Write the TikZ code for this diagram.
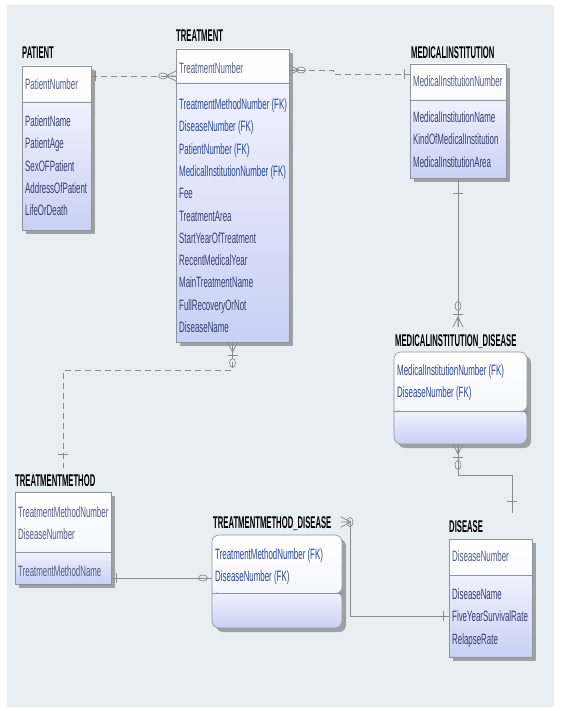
\documentclass[tikz,border=0pt]{standalone}
\usepackage{fontspec}
\setmainfont{Liberation Sans}
\newfontfamily\erfont{Liberation Sans}[FakeStretch=0.527]
\newfontfamily\ertitlefont{Liberation Sans}[FakeStretch=0.452]
\usetikzlibrary{shadows,calc}
\definecolor{panelbg}{HTML}{E8EFF2}
\definecolor{framegray}{HTML}{8C93A3}
\definecolor{shadowgray}{HTML}{999999}
\definecolor{keybot}{HTML}{F2F3FB}
\definecolor{attrtop}{HTML}{F0F2FD}
\definecolor{attrbot}{HTML}{C8D0F4}
\definecolor{keyblue}{HTML}{505C8A}
\definecolor{attrblue}{HTML}{343E70}
\definecolor{fkblue}{HTML}{2646A0}
\definecolor{linegray}{HTML}{8A8A8A}

\begin{document}
\begin{tikzpicture}[x=1pt, y=-1pt,
  entity/.style={draw=framegray, line width=0.6pt, anchor=north west, inner sep=0pt, outer sep=0pt,
    drop shadow={shadow xshift=4pt, shadow yshift=-4pt, fill=shadowgray, opacity=0.9},
    path picture={
      \shade[top color=white, bottom color=keybot] (path picture bounding box.north west) rectangle ([yshift=-#1]path picture bounding box.north east);
      \shade[top color=attrtop, bottom color=attrbot] ([yshift=-#1]path picture bounding box.north west) rectangle (path picture bounding box.south east);
      \draw[framegray, line width=0.6pt] ([yshift=-#1]path picture bounding box.north west) -- ([yshift=-#1]path picture bounding box.north east);
    }},
  entitytitle/.style={anchor=base west, inner sep=0pt, font=\ertitlefont\bfseries\fontsize{17}{17}\selectfont},
  % multi-line texts are placed by the baseline of their last line
  keytext/.style={anchor=base west, inner sep=0pt, align=left, text=keyblue, font=\erfont\fontsize{15}{22.3}\selectfont},
  attrtext/.style={keytext, text=attrblue},
  relline/.style={draw=linegray, line width=0.7pt},
  idline/.style={relline, dash pattern=on 6pt off 4pt},
  crow/.pic={\draw[relline] (-10,0) -- (0,-5) (-10,0) -- (0,5) (-10,0) -- (0,0);},
  bar/.pic={\draw[relline] (0,-5) -- (0,5);},
  vring/.pic={\draw[relline] (0,0) ellipse (3pt and 4.5pt);}
]
  \useasboundingbox (0,0) rectangle (561,711);
  \fill[panelbg] (7,5) rectangle (554,707);

  % entities
  \node[entity=36pt, minimum width=69pt, minimum height=164pt] (pat) at (22,66) {};
  \node[entitytitle] (pattitle) at ([yshift=7pt]pat.north west) {PATIENT};
  \node[keytext] (patkey) at ([xshift=3pt, yshift=-23.5pt]pat.north west) {PatientNumber};
  \node[attrtext] (patattr) at ([xshift=3pt, yshift=-149.7pt]pat.north west)
    {PatientName\\PatientAge\\SexOFPatient\\AddressOfPatient\\LifeOrDeath};

  \node[entity=34pt, minimum width=113pt, minimum height=293pt] (trt) at (176,49) {};
  \node[entitytitle] (trttitle) at ([yshift=7pt]trt.north west) {TREATMENT};
  \node[keytext] (trtkey) at ([xshift=3pt, yshift=-24.5pt]trt.north west) {TreatmentNumber};
  \node[attrtext] (trtattr) at ([xshift=3pt, yshift=-283.5pt]trt.north west)
    {\textcolor{fkblue}{TreatmentMethodNumber (FK)}\\\textcolor{fkblue}{DiseaseNumber (FK)}\\
     \textcolor{fkblue}{PatientNumber (FK)}\\\textcolor{fkblue}{MedicalInstitutionNumber (FK)}\\
     Fee\\TreatmentArea\\StartYearOfTreatment\\RecentMedicalYear\\MainTreatmentName\\
     FullRecoveryOrNot\\DiseaseName};

  \node[entity=36pt, minimum width=96pt, minimum height=114pt] (mi) at (410,64) {};
  \node[entitytitle] (mititle) at ([xshift=1pt, yshift=5.5pt]mi.north west) {MEDICALINSTITUTION};
  \node[keytext] (mikey) at ([xshift=3pt, yshift=-22.5pt]mi.north west) {MedicalInstitutionNumber};
  \node[attrtext] (miattr) at ([xshift=3pt, yshift=-103.1pt]mi.north west)
    {MedicalInstitutionName\\KindOfMedicalInstitution\\MedicalInstitutionArea};

  \node[entity=59pt, rounded corners=7pt, minimum width=133pt, minimum height=92pt] (mid) at (394,352) {};
  \node[entitytitle] (midtitle) at ([xshift=1pt, yshift=6pt]mid.north west) {MEDICALINSTITUTION\_DISEASE};
  \node[keytext, text=fkblue] (midkey) at ([xshift=3pt, yshift=-45.8pt]mid.north west)
    {MedicalInstitutionNumber (FK)\\DiseaseNumber (FK)};

  \node[entity=60pt, minimum width=96pt, minimum height=92pt] (tm) at (15,492) {};
  \node[entitytitle] (tmtitle) at ([yshift=6pt]tm.north west) {TREATMENTMETHOD};
  \node[keytext] (tmkey) at ([xshift=3pt, yshift=-47.8pt]tm.north west)
    {TreatmentMethodNumber\\DiseaseNumber};
  \node[keytext] (tmattr) at ([xshift=3pt, yshift=-84.5pt]tm.north west) {TreatmentMethodName};

  \node[entity=58pt, rounded corners=7pt, minimum width=130pt, minimum height=93pt] (tmd) at (212,535) {};
  \node[entitytitle] (tmdtitle) at ([xshift=1pt, yshift=7pt]tmd.north west) {TREATMENTMETHOD\_DISEASE};
  \node[keytext, text=fkblue] (tmdkey) at ([xshift=3pt, yshift=-46.8pt]tmd.north west)
    {TreatmentMethodNumber (FK)\\DiseaseNumber (FK)};

  \node[entity=36pt, minimum width=83pt, minimum height=118pt] (dis) at (449,539) {};
  \node[entitytitle] (distitle) at ([yshift=7pt]dis.north west) {DISEASE};
  \node[keytext] (diskey) at ([xshift=3pt, yshift=-22.5pt]dis.north west) {DiseaseNumber};
  \node[attrtext] (disattr) at ([xshift=3pt, yshift=-105.1pt]dis.north west)
    {DiseaseName\\FiveYearSurvivalRate\\RelapseRate};

  % PATIENT -- TREATMENT
  \coordinate (patr) at ([yshift=-10pt]pat.north east);
  \coordinate (trtl) at ([yshift=-27pt]trt.north west);
  \draw[idline] (patr) -- (trtl);
  \pic at ([xshift=4pt]patr) {bar};
  \pic at (trtl) {crow};
  \pic[rotate=90] at ([xshift=-13pt]trtl) {vring};

  % TREATMENT -- MEDICALINSTITUTION
  \coordinate (trtr) at ([yshift=-21pt]trt.north east);
  \coordinate (mil) at ([yshift=-10pt]mi.north west);
  \draw[idline] (trtr) -- ++(44,0) -- ++(0,4) -- (mil);
  \pic[rotate=180] at (trtr) {crow};
  \pic[rotate=90] at ([xshift=12pt]trtr) {vring};
  \pic at ([xshift=-6pt]mil) {bar};

  % MEDICALINSTITUTION -- MEDICALINSTITUTION_DISEASE
  \coordinate (midtop) at ([yshift=25pt]mid.north);
  \coordinate (midin) at (mi.south |- midtop);
  \draw[relline] (mi.south) -- (midin);
  \pic[rotate=90] at ([yshift=-15pt]mi.south) {bar};
  \pic[rotate=-90] at (midin) {crow};
  \pic[rotate=90] at ([yshift=13pt]midin) {bar};
  \pic at ([yshift=21pt]midin) {vring};

  % MEDICALINSTITUTION_DISEASE -- DISEASE
  \coordinate (midbot) at ([xshift=-2.5pt]mid.south);
  \coordinate (distop) at ([xshift=21.5pt, yshift=26pt]dis.north);
  \draw[relline] (midbot) -- ++(0,31) -| (distop);
  \pic[rotate=90] at (midbot) {crow};
  \pic[rotate=90] at ([yshift=-13pt]midbot) {bar};
  \pic at ([yshift=-21pt]midbot) {vring};
  \pic[rotate=90] at ([yshift=12pt]distop) {bar};

  % TREATMENT -- TREATMENTMETHOD
  \coordinate (tmtop) at ([yshift=24pt]tm.north);
  \draw[idline] (trt.south) -- ++(0,28) -| (tmtop);
  \pic[rotate=90] at (trt.south) {crow};
  \pic[rotate=90] at ([yshift=-13pt]trt.south) {bar};
  \pic at ([yshift=-21pt]trt.south) {vring};
  \pic[rotate=90] at ([yshift=14pt]tmtop) {bar};

  % TREATMENTMETHOD -- TREATMENTMETHOD_DISEASE
  \coordinate (tmr) at ([yshift=6pt]tm.south east);
  \coordinate (tmdl) at (tmr -| tmd.west);
  \draw[relline] (tmr) -- (tmdl);
  \pic at ([xshift=5pt]tmr) {bar};
  \pic[rotate=90] at ([xshift=-9pt]tmdl) {vring};

  % TREATMENTMETHOD_DISEASE -- DISEASE
  \coordinate (tmdr) at ([xshift=8pt, yshift=13pt]tmd.north east);
  \coordinate (disl) at ([yshift=-18pt]dis.west);
  \draw[relline] (tmdr) |- (disl);
  \pic[rotate=180] at ([xshift=-9pt]tmdr) {crow};
  \pic at (tmdr) {vring};
  \pic at ([xshift=-6pt]disl) {bar};
\end{tikzpicture}
\end{document}
